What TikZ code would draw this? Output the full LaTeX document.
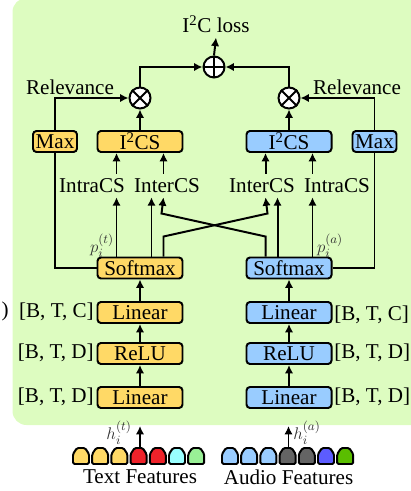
\documentclass[tikz,border=0pt]{standalone}
\usepackage{fontspec}
\setmainfont{Liberation Serif}
\usetikzlibrary{arrows.meta}
\definecolor{bggreen}{RGB}{221,252,192}
\definecolor{boxyellow}{RGB}{255,217,102}
\definecolor{boxblue}{RGB}{153,204,255}
\definecolor{featred}{RGB}{238,34,42}
\definecolor{featcyan}{RGB}{153,255,255}
\definecolor{featlgreen}{RGB}{153,240,150}
\definecolor{featgray}{RGB}{100,100,100}
\definecolor{featpurple}{RGB}{92,92,255}
\definecolor{featgreen}{RGB}{90,190,0}
\definecolor{symgray}{RGB}{50,50,50}
\begin{document}
\begin{tikzpicture}[x=0.025cm, y=-0.025cm,
    font=\fontsize{15pt}{18pt}\selectfont,
    blk/.style={draw, line width=1.4pt, rounded corners=2.5pt, minimum width=2.125cm, minimum height=0.525cm, inner sep=0pt},
    tblk/.style={blk, fill=boxyellow},
    ablk/.style={blk, fill=boxblue},
    opnode/.style={draw, circle, fill=white, line width=1.4pt, minimum size=0.525cm, inner sep=0pt},
    lbl/.style={inner sep=0pt, minimum height=0.575cm},
    arr/.style={-{Latex[length=6pt,width=6pt]}, line width=1.4pt},
    ln/.style={line width=1.4pt},
    sym/.style={font=\fontsize{13pt}{15pt}\selectfont, text=symgray}]
    \useasboundingbox (0,0) rectangle (410,491);
    % Background
    \fill[bggreen, rounded corners=0.35cm] (12.5,-2) rectangle (430,425);
    \node[anchor=east, inner sep=0pt] (paren) at (9,311) {)};

    % Text branch
    \node[tblk] (linL1) at (140,397.5) {Linear};
    \node[tblk] (reluL) at (140,353.5) {ReLU};
    \node[tblk] (linL2) at (140,312.5) {Linear};
    \node[tblk] (smL) at (140,268) {Softmax};
    \node[tblk] (csL) at (140,141.5) {I\textsuperscript{2}CS};
    \node[tblk, minimum width=1.1cm] (maxL) at (55,141.5) {Max};
    \node[anchor=east, inner sep=0pt] (dimL3) at (94,397) {[B, T, D]};
    \node[anchor=east, inner sep=0pt] (dimL2) at (94,353) {[B, T, D]};
    \node[anchor=east, inner sep=0pt] (dimL1) at (94,312) {[B, T, C]};

    % Audio branch
    \node[ablk] (linR1) at (289,397.5) {Linear};
    \node[ablk] (reluR) at (289,353.5) {ReLU};
    \node[ablk] (linR2) at (289,312.5) {Linear};
    \node[ablk] (smR) at (289,268) {Softmax};
    \node[ablk] (csR) at (289,141.5) {I\textsuperscript{2}CS};
    \node[ablk, minimum width=1.1cm] (maxR) at (374.5,141.5) {Max};
    \node[anchor=west, inner sep=0pt] (dimR3) at (334,397) {[B, T, D]};
    \node[anchor=west, inner sep=0pt] (dimR2) at (334,353) {[B, T, D]};
    \node[anchor=west, inner sep=0pt] (dimR1) at (334,315) {[B, T, C]};

    % Scores
    \node[lbl] (intraL) at (92,185.5) {IntraCS};
    \node[lbl] (interL) at (167,185.5) {InterCS};
    \node[lbl] (interR) at (262,185.5) {InterCS};
    \node[lbl] (intraR) at (337,185.5) {IntraCS};
    \node[sym] (pT) at (102,246) {$p_i^{(t)}$};
    \node[sym] (pA) at (330,246) {$p_i^{(a)}$};

    % Loss
    \node[opnode] (mulL) at (140,98) {};
    \node[opnode] (mulR) at (289,98) {};
    \node[opnode] (sum) at (214,67) {};
    \draw[ln] (mulL.45) -- (mulL.225) (mulL.135) -- (mulL.315);
    \draw[ln] (mulR.45) -- (mulR.225) (mulR.135) -- (mulR.315);
    \draw[ln] (sum.north) -- (sum.south) (sum.east) -- (sum.west);
    \node (relL) at (70,87) {Relevance};
    \node (relR) at (357,87) {Relevance};
    \node (loss) at (216,24) {I\textsuperscript{2}C loss};

    % Flow
    \draw[arr] (linL1.north) -- (reluL.south);
    \draw[arr] (reluL.north) -- (linL2.south);
    \draw[arr] (linL2.north) -- (smL.south);
    \draw[arr] (linR1.north) -- (reluR.south);
    \draw[arr] (reluR.north) -- (linR2.south);
    \draw[arr] (linR2.north) -- (smR.south);
    \draw[ln] (smL.west) -| (maxL.south);
    \draw[ln] (smR.east) -| (maxR.south);
    \draw[arr] ([xshift=0.5cm]smL.north west) -- ([xshift=0.5cm]smL.north west |- intraL.south);
    \draw[arr] ([xshift=-0.8cm]smL.north east) -- ([xshift=-0.8cm]smL.north east |- interL.south);
    \draw[arr] ([xshift=-0.5cm]smL.north east) -- ++(0,-20) -- ++(104,-23) -- ([xshift=0.5cm]smR.north west |- interR.south);
    \draw[arr] ([xshift=0.5cm]smR.north west) -- ++(0,-20) -- ++(-104,-23) -- ([xshift=-0.5cm]smL.north east |- interL.south);
    \draw[arr] ([xshift=0.8cm]smR.north west) -- ([xshift=0.8cm]smR.north west |- interR.south);
    \draw[arr] ([xshift=-0.5cm]smR.north east) -- ([xshift=-0.5cm]smR.north east |- intraR.south);
    \draw[arr] ([xshift=0.5cm]csL.south west |- intraL.north) -- ([xshift=0.5cm]csL.south west);
    \draw[arr] ([xshift=-0.5cm]csL.south east |- interL.north) -- ([xshift=-0.5cm]csL.south east);
    \draw[arr] ([xshift=0.5cm]csR.south west |- interR.north) -- ([xshift=0.5cm]csR.south west);
    \draw[arr] ([xshift=-0.5cm]csR.south east |- intraR.north) -- ([xshift=-0.5cm]csR.south east);
    \draw[arr] (csL.north) -- (mulL.south);
    \draw[arr] (csR.north) -- (mulR.south);
    \draw[arr] (maxL.north) |- (mulL.west);
    \draw[arr] (maxR.north) |- (mulR.east);
    \draw[arr] (mulL.north) |- (sum.west);
    \draw[arr] (mulR.north) |- (sum.east);
    \draw[arr] (sum.north) -- (loss.south);

    % Features
    \foreach \c [count=\i from 0] in {boxyellow,boxyellow,boxyellow,featred,featred,featcyan,featlgreen}
        \draw[ln, fill=\c, rounded corners=1pt] (73+19.2*\i,464) -- ++(0,-10) -- ++(4,-6) -- ++(8,0) -- ++(4,6) -- ++(0,10) -- cycle;
    \foreach \c [count=\i from 0] in {boxblue,boxblue,boxblue,featgray,featgray,featpurple,featgreen}
        \draw[ln, fill=\c, rounded corners=1pt] (222+19.2*\i,464) -- ++(0,-10) -- ++(4,-6) -- ++(8,0) -- ++(4,6) -- ++(0,10) -- cycle;
    \coordinate (tIn) at (140,448);
    \coordinate (tTop) at (140,426);
    \coordinate (aIn) at (288.5,448);
    \coordinate (aTop) at (288.5,426);
    \draw[arr] (tIn) -- (tTop);
    \draw[arr] (aIn) -- (aTop);
    \node[sym] (hT) at (119,433) {$h_i^{(t)}$};
    \node[sym] (hA) at (307,433) {$h_i^{(a)}$};
    \node (txtF) at (140,477) {Text Features};
    \node (audF) at (288.5,477) {Audio Features};
\end{tikzpicture}
\end{document}
